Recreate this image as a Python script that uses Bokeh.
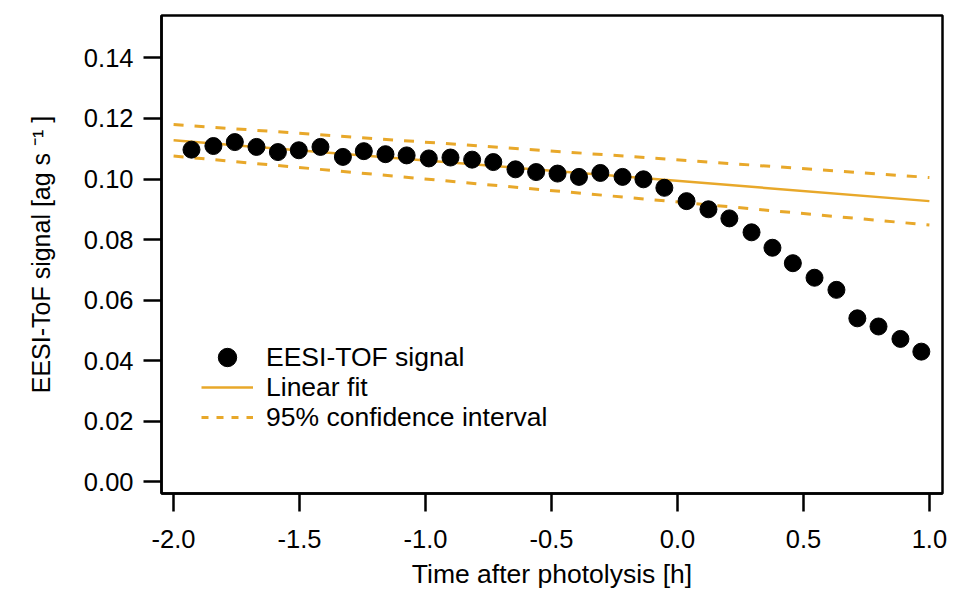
from bokeh.plotting import figure
from bokeh.models import Range1d, FixedTicker, NumeralTickFormatter, Legend, LegendItem
from bokeh.embed import file_html
from bokeh.resources import INLINE

# EESI-TOF signal vs. time relative to photolysis start
time_h = [-1.929, -1.842, -1.757, -1.671, -1.586, -1.503, -1.417, -1.328, -1.245,
          -1.159, -1.075, -0.987, -0.901, -0.815, -0.731, -0.643, -0.561, -0.476,
          -0.391, -0.306, -0.218, -0.135, -0.052, 0.036, 0.123, 0.206, 0.294,
          0.377, 0.458, 0.544, 0.631, 0.714, 0.798, 0.885, 0.968]
signal = [0.1097, 0.1109, 0.1122, 0.1106, 0.1089, 0.1095, 0.1106, 0.1073, 0.1092,
          0.1082, 0.1078, 0.1068, 0.1071, 0.1064, 0.1056, 0.1032, 0.1023, 0.1018,
          0.1007, 0.1020, 0.1007, 0.0999, 0.0971, 0.0927, 0.0900, 0.0870, 0.0824,
          0.0773, 0.0722, 0.0674, 0.0634, 0.0540, 0.0513, 0.0472, 0.0430]

# Linear fit of the pre-photolysis period and its 95 % confidence band
fit_x = [-2.0, 1.0]
fit_y = [0.1128, 0.0927]
ci_upper = [0.1180, 0.1005]
ci_lower = [0.1076, 0.0848]

x_ticks = [-2.0, -1.5, -1.0, -0.5, 0.0, 0.5, 1.0]
y_ticks = [0.00, 0.02, 0.04, 0.06, 0.08, 0.10, 0.12, 0.14]

FONT = "Liberation Sans"
GOLD = "#E8A82A"
NAN = float("nan")

p = figure(width=954, height=591, output_backend="svg", toolbar_location=None,
           x_range=Range1d(-2.048, 1.052), y_range=Range1d(-0.00385, 0.154),
           min_border_left=161, min_border_right=12, min_border_top=15,
           min_border_bottom=97)

p.grid.visible = False
p.outline_line_color = "black"
p.outline_line_width = 2.5
p.background_fill_color = "white"
p.border_fill_color = "white"

for ax in (p.xaxis[0], p.yaxis[0]):
    ax.axis_line_width = 2.5
    ax.axis_line_color = "black"
    ax.major_tick_line_width = 2.5
    ax.major_tick_line_color = "black"
    ax.major_tick_out = 18
    ax.major_tick_in = 0
    ax.minor_tick_line_color = None
    ax.major_label_text_font = FONT
    ax.major_label_text_font_size = "25.5px"
    ax.major_label_text_color = "black"
    ax.axis_label_text_font = FONT
    ax.axis_label_text_font_style = "normal"
    ax.axis_label_text_color = "black"

p.xaxis.ticker = FixedTicker(ticks=x_ticks)
p.xaxis.formatter = NumeralTickFormatter(format="0.0")
p.xaxis.major_label_standoff = 18
p.xaxis.axis_label = "Time after photolysis [h]"
p.xaxis.axis_label_text_font_size = "26.5px"
p.xaxis.axis_label_standoff = 8

p.yaxis.ticker = FixedTicker(ticks=y_ticks)
p.yaxis.formatter = NumeralTickFormatter(format="0.00")
p.yaxis.major_label_standoff = 10
p.yaxis.axis_label = "EESI-ToF signal [ag s \u207b\u00b9 ]"
p.yaxis.axis_label_text_font_size = "25px"
p.yaxis.axis_label_standoff = 26

upper = p.line(fit_x, ci_upper, line_color=GOLD, line_width=3, line_dash="10 11")
lower = p.line(fit_x, ci_lower, line_color=GOLD, line_width=3, line_dash="10 11")
fit = p.line(fit_x, fit_y, line_color=GOLD, line_width=2.5)
pts = p.scatter(time_h, signal, size=17, fill_color="black", line_color="black")

# legend swatch for the confidence band uses a shorter dash
ci_key = p.line([NAN, NAN], [NAN, NAN], line_color=GOLD, line_width=3,
                line_dash="7 8")

# one legend per row keeps large swatches with tight 30 px row spacing
rows = [("EESI-TOF signal", pts, 113),
        ("Linear fit", fit, 83),
        ("95% confidence interval", ci_key, 53)]
for text, rend, y_off in rows:
    p.add_layout(Legend(
        items=[LegendItem(label=text, renderers=[rend])],
        location=(40, y_off),
        glyph_width=52, glyph_height=46, spacing=0, label_standoff=13,
        padding=0, margin=0,
        border_line_alpha=0, background_fill_alpha=0,
        label_text_font=FONT, label_text_font_size="26.5px",
        label_text_color="black",
    ))

open("out.html", "w").write(file_html(p, INLINE))
